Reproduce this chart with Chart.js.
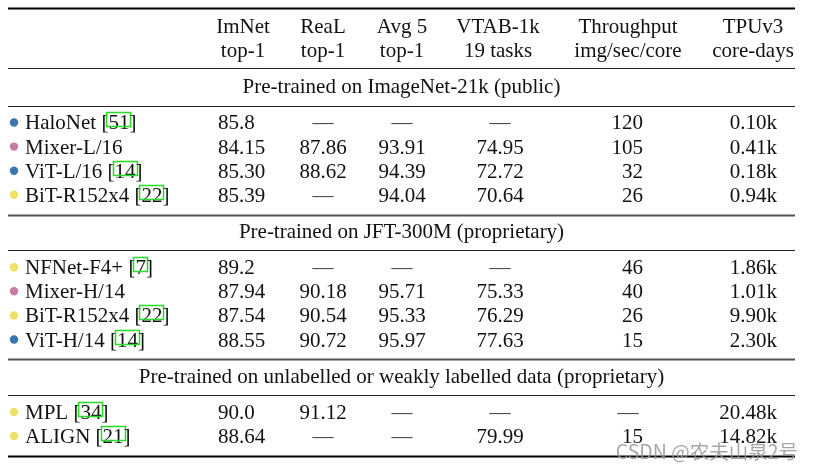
<!DOCTYPE html>
<html>
<head>
<meta charset="utf-8">
<script src="https://cdn.jsdelivr.net/npm/chart.js@4.4.1/dist/chart.umd.min.js"></script>
<style>
  html, body { margin: 0; padding: 0; background: #fff; }
  #wrap { width: 815px; height: 470px; position: relative; }
</style>
</head>
<body>
<div id="wrap"><canvas id="tbl"></canvas></div>
<script>
/* ===== DATA ===== */
const headTop = ["ImNet", "ReaL", "Avg 5", "VTAB-1k", "Throughput", "TPUv3"];
const headSub = ["top-1", "top-1", "top-1", "19 tasks", "img/sec/core", "core-days"];

const groupTitles = [
  "Pre-trained on ImageNet-21k (public)",
  "Pre-trained on JFT-300M (proprietary)",
  "Pre-trained on unlabelled or weakly labelled data (proprietary)"
];
const groupSizes = [4, 4, 2];

const models = ["HaloNet", "Mixer-L/16", "ViT-L/16", "BiT-R152x4",
  "NFNet-F4+", "Mixer-H/14", "BiT-R152x4", "ViT-H/14", "MPL", "ALIGN"];
const refs = ["51", "", "14", "22", "7", "", "22", "14", "34", "21"];
const family = ["halo", "mixer", "vit", "bit", "bit", "mixer", "bit", "vit", "bit", "bit"];

const imnet = ["85.8", "84.15", "85.30", "85.39", "89.2", "87.94", "87.54", "88.55", "90.0", "88.64"];
const real = [null, 87.86, 88.62, null, null, 90.18, 90.54, 90.72, 91.12, null];
const avg5 = [null, 93.91, 94.39, 94.04, null, 95.71, 95.33, 95.97, null, null];
const vtab = [null, 74.95, 72.72, 70.64, null, 75.33, 76.29, 77.63, null, 79.99];
const throughput = [120, 105, 32, 26, 46, 40, 26, 15, null, 15];
const tpuDays = [0.10, 0.41, 0.18, 0.94, 1.86, 1.01, 9.90, 2.30, 20.48, 14.82]; // thousands
/* ================ */

const DOT = { halo: "#3b76af", vit: "#3b76af", mixer: "#c77ca6", bit: "#efe066" };
const FONT = '21px "Liberation Serif", "Times New Roman", serif';
const INK = "#111";
const DASH = "\u2014";

// layout in scale units (x: px-like columns, y: text lines)
const L = {
  left: 8, right: 795, dotX: 14, nameX: 25,
  // [anchor x, align] for each value column
  cols: [[218, "left"], [323, "center"], [402, "center"], [500, "center"], [643, "right"], [777, "right"]],
  dashX: [243, 323, 402, 500, 628, 752],
  headX: [243, 323, 402, 498, 628, 753]
};

// row positions (y units)
const rowY = [];
const titleY = [];
const rules = [{ y: -0.75, w: 1.8, c: "#000" }, { y: 1.75, w: 1.2, c: "#222" }];
let cur = 1;
groupSizes.forEach((n, g) => {
  titleY.push(cur + 1.5);
  rules.push({ y: cur + 1.5 + 0.8, w: 1.2, c: "#222" });
  cur += 3;
  for (let i = 0; i < n; i++) { rowY.push(cur); cur++; }
  cur--;
  const last = g === groupSizes.length - 1;
  rules.push({ y: cur + 0.82, w: last ? 2 : 1.8, c: last ? "#000" : "#555" });
});

const fmt2 = (v) => (v == null ? null : Number(v).toFixed(2));
const cells = models.map((m, i) => [
  imnet[i],
  fmt2(real[i]),
  fmt2(avg5[i]),
  fmt2(vtab[i]),
  throughput[i] == null ? null : String(throughput[i]),
  tpuDays[i].toFixed(2) + "k"
]);

const tablePlugin = {
  id: "tableText",
  beforeDatasetsDraw(chart) {
    const { ctx, scales: { x, y } } = chart;
    ctx.save();
    rules.forEach((r) => {
      const py = Math.round(y.getPixelForValue(r.y)) + 0.5;
      ctx.strokeStyle = r.c;
      ctx.lineWidth = r.w;
      ctx.beginPath();
      ctx.moveTo(x.getPixelForValue(L.left), py);
      ctx.lineTo(x.getPixelForValue(L.right), py);
      ctx.stroke();
    });
    ctx.restore();
  },
  afterDatasetsDraw(chart) {
    const { ctx, scales: { x, y } } = chart;
    ctx.save();
    ctx.font = FONT;
    ctx.fillStyle = INK;
    ctx.textBaseline = "alphabetic";
    const base = (v) => y.getPixelForValue(v) + 7;

    // header
    ctx.textAlign = "center";
    headTop.forEach((t, i) => ctx.fillText(t, x.getPixelForValue(L.headX[i]), base(0)));
    headSub.forEach((t, i) => ctx.fillText(t, x.getPixelForValue(L.headX[i]), base(1)));

    // group titles
    const mid = x.getPixelForValue((L.left + L.right) / 2);
    groupTitles.forEach((t, g) => ctx.fillText(t, mid, base(titleY[g])));

    // rows
    models.forEach((m, i) => {
      const by = base(rowY[i]);
      const cy = y.getPixelForValue(rowY[i]);
      let px = x.getPixelForValue(L.nameX);
      ctx.textAlign = "left";
      ctx.fillStyle = INK;
      if (refs[i]) {
        const pre = m + " [";
        ctx.fillText(pre, px, by);
        px += ctx.measureText(pre).width;
        const dw = ctx.measureText(refs[i]).width;
        ctx.fillText(refs[i], px, by);
        ctx.strokeStyle = "#22e022";
        ctx.lineWidth = 1.5;
        ctx.strokeRect(Math.round(px - 2) + 0.5, Math.round(cy - 10) + 0.5, Math.round(dw + 3), 14);
        ctx.fillText("]", px + dw, by);
      } else {
        ctx.fillText(m, px, by);
      }

      cells[i].forEach((v, c) => {
        if (v == null) {
          ctx.textAlign = "center";
          ctx.fillStyle = "#444";
          ctx.fillText(DASH, x.getPixelForValue(L.dashX[c]), by);
        } else {
          ctx.textAlign = L.cols[c][1];
          ctx.fillStyle = INK;
          ctx.fillText(v, x.getPixelForValue(L.cols[c][0]), by);
        }
      });
    });

    // watermark
    ctx.font = '19.5px "Noto Sans CJK SC", "Noto Sans", sans-serif';
    ctx.textAlign = "right";
    ctx.fillStyle = "rgba(150,150,150,0.85)";
    ctx.fillText("CSDN @农夫山泉2号", x.getPixelForValue(798), y.getPixelForValue(17) + 23);
    ctx.restore();
  }
};

// y scale: row 0 -> 26px, row 17 -> 436px
const PX_PER_ROW = 410 / 17;
const Y_MIN = -26 / PX_PER_ROW;
const Y_MAX = Y_MIN + 470 / PX_PER_ROW;

new Chart(document.getElementById("tbl"), {
  type: "scatter",
  data: {
    datasets: [{
      data: models.map((m, i) => ({ x: L.dotX, y: rowY[i] })),
      pointBackgroundColor: family.map((f) => DOT[f]),
      pointBorderWidth: 0,
      pointRadius: 4.2
    }]
  },
  options: {
    responsive: true,
    maintainAspectRatio: false,
    animation: false,
    layout: { padding: 0, autoPadding: false },
    plugins: { legend: { display: false }, tooltip: { enabled: false } },
    scales: {
      x: { type: "linear", min: 0, max: 815, display: false },
      y: { type: "linear", min: Y_MIN, max: Y_MAX, reverse: true, display: false }
    }
  },
  plugins: [tablePlugin]
});
</script>
</body>
</html>
